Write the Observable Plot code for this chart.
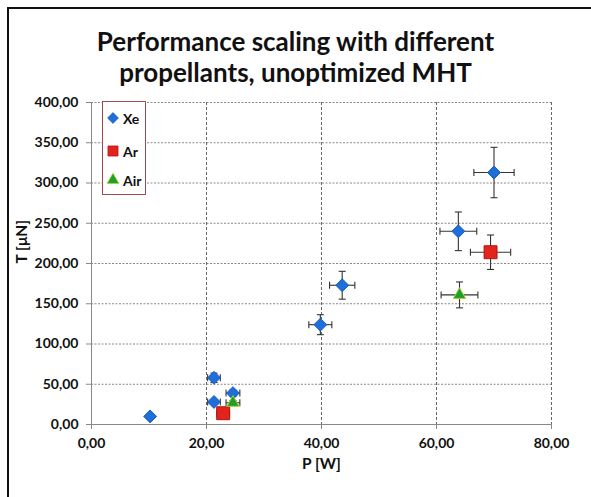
<!DOCTYPE html>
<html><head><meta charset="utf-8">
<script src="https://cdn.jsdelivr.net/npm/d3@7"></script>
<script src="https://cdn.jsdelivr.net/npm/@observablehq/plot@0.6"></script>
<style>
body{margin:0;background:#fff;}
#wrap{position:relative;width:591px;height:497px;overflow:hidden;background:#fff;font-family:Lato,"Open Sans",sans-serif;}
#border{position:absolute;left:7px;top:7px;width:600px;height:520px;border-left:2px solid #111;border-top:2px solid #111;}
#title{position:absolute;left:0;top:26px;width:591px;text-align:center;font-weight:bold;font-size:26px;line-height:31px;color:#111;}
#legend{position:absolute;left:102px;top:101px;width:42px;height:92px;border:1px solid #a04a4d;background:#fff;font-weight:bold;font-size:14px;color:#111;}
.li{position:absolute;left:4px;height:16px;display:flex;align-items:center;}
.li svg{margin-right:4px;}
#chart{position:absolute;left:0;top:0;}
</style></head>
<body>
<div id="wrap">
  <div id="border"></div>
  <div id="title">Performance scaling with different<br>propellants, unoptimized MHT</div>
  <div id="chart"></div>
  <div id="legend"></div>
</div>
<script>
// ---- data ----
const seriesNames = ["Xe", "Ar", "Air"];
const xeP = [10.2, 21.3, 21.3, 24.6, 39.8, 43.6, 63.8, 70.0];
const xeT = [10, 58, 28, 39, 124, 173, 240, 313];
const xeErrP = [0.5, 1.1, 1.1, 1.2, 2.0, 2.2, 3.2, 3.5];
const xeErrT = [1.0, 5.8, 2.8, 3.9, 12.4, 17.3, 24.0, 31.3];
const arP = [22.9, 69.4];
const arT = [14, 214];
const arErrP = [1.1, 3.5];
const arErrT = [1.4, 21.4];
const airP = [24.6, 64.0];
const airT = [27, 161];
const airErrP = [1.2, 3.2];
const airErrT = [2.7, 16.1];
const xTicks = [0, 20, 40, 60, 80];
const yTicks = [0, 50, 100, 150, 200, 250, 300, 350, 400];

const styles = {
  Xe: {symbol: "diamond2", r: 5.8, fill: "#1f6fdb", stroke: "#1a5cbf"},
  Ar: {symbol: "square", r: 7.3, fill: "#e3241c", stroke: "#b01414"},
  Air: {symbol: "triangle", r: 4.6, fill: "#1e9e2e", stroke: "#a8d42a"}
};

function build(name, P, T, eP, eT) {
  return P.map((p, i) => ({s: name, P: p, T: T[i], eP: eP[i], eT: eT[i]}));
}
const data = [
  ...build("Xe", xeP, xeT, xeErrP, xeErrT),
  ...build("Ar", arP, arT, arErrP, arErrT),
  ...build("Air", airP, airT, airErrP, airErrT)
];

const fmt = v => v.toFixed(2).replace(".", ",");
const vCap = {draw(ctx, size) { ctx.moveTo(0, -3.5); ctx.lineTo(0, 3.5); }};
const hCap = {draw(ctx, size) { ctx.moveTo(-3.5, 0); ctx.lineTo(3.5, 0); }};
const barColor = "#333";

const marks = [
  Plot.gridY(yTicks.filter(d => d > 0), {stroke: "#888", strokeOpacity: 1, strokeDasharray: "2,1.5", strokeWidth: 1}),
  Plot.gridX(xTicks.filter(d => d > 0), {stroke: "#666", strokeOpacity: 1, strokeDasharray: "3,2", strokeWidth: 1}),
  Plot.axisY({ticks: yTicks, tickFormat: fmt, tickSize: 5, tickPadding: 8, fontSize: 14, fontWeight: "bold", label: null, stroke: "#888"}),
  Plot.axisX({ticks: xTicks, tickFormat: fmt, tickSize: 5, tickPadding: 9, fontSize: 14, fontWeight: "bold", label: null, stroke: "#888"}),
  Plot.ruleY([0], {stroke: "#888"}),
  Plot.ruleX([0], {stroke: "#888"}),
  // error bars
  Plot.link(data, {x1: d => d.P - d.eP, x2: d => d.P + d.eP, y1: "T", y2: "T", stroke: barColor, strokeWidth: 1.1}),
  Plot.link(data, {x1: "P", x2: "P", y1: d => d.T - d.eT, y2: d => d.T + d.eT, stroke: barColor, strokeWidth: 1.1}),
  Plot.dot(data, {x: d => d.P - d.eP, y: "T", symbol: vCap, r: 3, stroke: barColor, strokeWidth: 1.1, fill: "none"}),
  Plot.dot(data, {x: d => d.P + d.eP, y: "T", symbol: vCap, r: 3, stroke: barColor, strokeWidth: 1.1, fill: "none"}),
  Plot.dot(data, {x: "P", y: d => d.T - d.eT, symbol: hCap, r: 3, stroke: barColor, strokeWidth: 1.1, fill: "none"}),
  Plot.dot(data, {x: "P", y: d => d.T + d.eT, symbol: hCap, r: 3, stroke: barColor, strokeWidth: 1.1, fill: "none"}),
  ...seriesNames.map(n => Plot.dot(data.filter(d => d.s === n), {x: "P", y: "T", symbol: styles[n].symbol, r: styles[n].r, fill: styles[n].fill, stroke: styles[n].stroke, strokeWidth: 1})),
  Plot.text(["P [W]"], {frameAnchor: "bottom", dy: 44, fontSize: 15.5, fontWeight: "bold", fill: "#111"}),
  Plot.text(["T [μN]"], {frameAnchor: "left", dx: -69, rotate: -90, fontSize: 15.5, fontWeight: "bold", fill: "#111"})
];

const chart = Plot.plot({
  width: 591, height: 497,
  marginLeft: 91, marginRight: 40, marginTop: 102, marginBottom: 73,
  style: {fontFamily: "Lato, 'Open Sans', sans-serif", color: "#111", background: "transparent", overflow: "visible"},
  x: {domain: [0, 80]},
  y: {domain: [0, 400]},
  marks
});
document.getElementById("chart").appendChild(chart);

// legend
const leg = document.getElementById("legend");
const legTops = {Xe: 8, Ar: 41, Air: 70};
seriesNames.forEach(n => {
  const st = styles[n];
  const item = document.createElement("div");
  item.className = "li";
  item.style.top = legTops[n] + "px";
  const sym = d3.symbol(n === "Xe" ? d3.symbolDiamond2 : n === "Ar" ? d3.symbolSquare : d3.symbolTriangle, Math.PI * st.r * st.r * (n === "Ar" ? 0.6 : n === "Xe" ? 0.7 : 0.9))();
  item.innerHTML = `<svg width="12" height="14" viewBox="-6 -7 12 14"><path d="${sym}" fill="${st.fill}" stroke="${st.stroke}" stroke-width="0.8"/></svg><span>${n}</span>`;
  leg.appendChild(item);
});
</script>
</body></html>
